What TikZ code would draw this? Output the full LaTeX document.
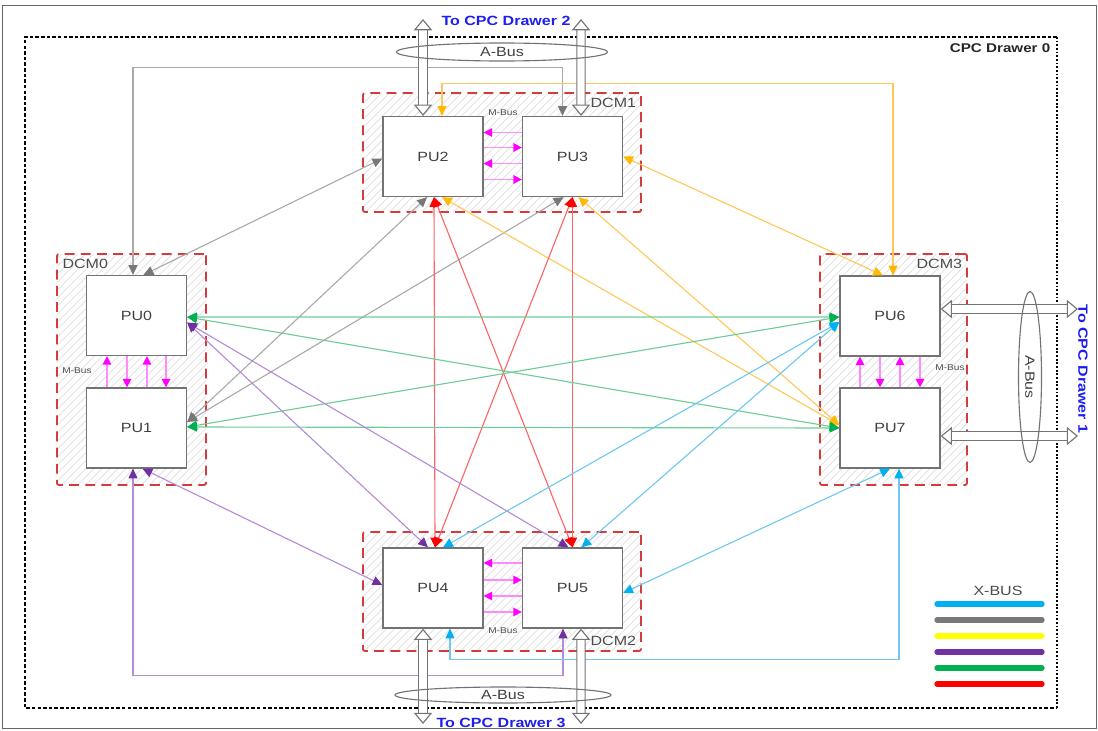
\documentclass[tikz,border=0pt]{standalone}
\usepackage{fontspec}
\setmainfont{Liberation Sans}[FakeStretch=1.2]
\usetikzlibrary{arrows.meta,calc,shapes.geometric,patterns.meta}

\definecolor{lgray}{RGB}{170,170,170}
\definecolor{tgray}{RGB}{120,120,120}
\definecolor{lorange}{RGB}{255,200,90}
\definecolor{torange}{RGB}{255,185,0}
\definecolor{lred}{RGB}{255,100,100}
\definecolor{tred}{RGB}{255,0,0}
\definecolor{lgreen}{RGB}{110,205,150}
\definecolor{tgreen}{RGB}{0,176,80}
\definecolor{lpurple}{RGB}{180,140,215}
\definecolor{tpurple}{RGB}{112,48,160}
\definecolor{lblue}{RGB}{110,200,240}
\definecolor{tblue}{RGB}{0,176,240}
\definecolor{lmag}{RGB}{255,140,255}
\definecolor{tmag}{RGB}{255,0,255}
\definecolor{dcmred}{RGB}{210,60,60}
\definecolor{legyellow}{RGB}{255,255,0}
\definecolor{cpcblue}{RGB}{30,30,240}

\tikzset{
  pu/.style={draw=black!55, line width=0.9pt, fill=white, minimum width=2.5cm,
    minimum height=2cm, font=\fontsize{9.5}{11}\selectfont, text=black!75},
  dcm/.style={draw=dcmred, line width=1.3pt, dash pattern=on 7pt off 4.5pt,
    rounded corners=1.5pt, pattern={Lines[angle=45,distance=4pt,line width=0.45pt]},
    pattern color=black!22},
  dcmlabel/.style={font=\fontsize{9.5}{11}\selectfont, text=black!70, inner sep=4pt},
  mlabel/.style={font=\fontsize{6}{7}\selectfont, text=black!70, inner sep=1pt},
  cpclabel/.style={font=\fontsize{9.5}{11}\selectfont\bfseries, text=cpcblue, inner sep=1pt},
  frame/.style={line width=1.1pt, dash pattern=on 2.5pt off 1.5pt},
  busring/.style={ellipse, draw=black!55, line width=0.8pt, inner sep=0pt,
    font=\fontsize{9.5}{11}\selectfont, text=black!75},
  busarrow/.style={draw=black!55, double=white, double distance=5pt, line width=0.8pt,
    {Triangle[length=8pt,width=13pt,fill=white]}-{Triangle[length=8pt,width=13pt,fill=white]}},
  mbus/.style={draw=lmag, line width=1.1pt, -{Triangle[length=6pt,width=6pt,color=tmag]}},
  link/.style 2 args={draw=#1, line width=0.8pt,
    {Triangle[length=7pt,width=6.5pt,color=#2]}-{Triangle[length=7pt,width=6.5pt,color=#2]}},
  graylink/.style={link={lgray}{tgray}},
  orangelink/.style={link={lorange}{torange}},
  redlink/.style={link={lred}{tred}},
  greenlink/.style={link={lgreen}{tgreen}},
  purplelink/.style={link={lpurple}{tpurple}},
  bluelink/.style={link={lblue}{tblue}},
  legend/.style={line width=3.8pt, line cap=round}
}

\begin{document}
\begin{tikzpicture}[x=0.025cm, y=-0.025cm]
  \useasboundingbox (0,0) rectangle (1098,730);
  \draw[black!60, line width=0.4pt] (2,5) rectangle (1096,728);

  % drawer frame
  \draw[frame] (1057,37) -- (25,37) -- (25,708) -- (1057,708);
  \draw[frame, dash pattern=on 1.3pt off 1.3pt] (1057,37) -- (1057,708);
  \node[anchor=north east, inner sep=1pt, font=\fontsize{9}{11}\selectfont\bfseries,
    text=black!85] (drw0) at (1052,42) {CPC Drawer 0};

  % dual chip modules
  \node[dcm, minimum width=3.725cm, minimum height=5.775cm] (dcm0) at (131.5,369.5) {};
  \node[dcm, minimum width=6.95cm, minimum height=2.975cm] (dcm1) at (502,152.5) {};
  \node[dcm, minimum width=6.95cm, minimum height=2.975cm] (dcm2) at (502,591.5) {};
  \node[dcm, minimum width=3.675cm, minimum height=5.775cm] (dcm3) at (893.5,369.5) {};
  \node[dcmlabel, anchor=north west] (dcm0l) at (dcm0.north west) {DCM0};
  \node[dcmlabel, anchor=north east] (dcm1l) at (dcm1.north east) {DCM1};
  \node[dcmlabel, anchor=south east] (dcm2l) at (dcm2.south east) {DCM2};
  \node[dcmlabel, anchor=north east] (dcm3l) at (dcm3.north east) {DCM3};

  % processor units
  \node[pu] (pu0) at (136.5,315.5) {PU0};
  \node[pu] (pu1) at (136.5,428) {PU1};
  \node[pu] (pu2) at (433,156.5) {PU2};
  \node[pu] (pu3) at (572.5,156.5) {PU3};
  \node[pu] (pu4) at (433,588) {PU4};
  \node[pu] (pu5) at (572.5,588) {PU5};
  \node[pu] (pu6) at (890,316) {PU6};
  \node[pu] (pu7) at (890,428) {PU7};

  % M-Bus inside each module
  \foreach \d in {-24,7}
    \draw[mbus] ($(pu3.west)+(0,\d)$) -- ($(pu2.east)+(0,\d)$);
  \foreach \d in {-9,23}
    \draw[mbus] ($(pu2.east)+(0,\d)$) -- ($(pu3.west)+(0,\d)$);
  \foreach \d in {-25,8}
    \draw[mbus] ($(pu5.west)+(0,\d)$) -- ($(pu4.east)+(0,\d)$);
  \foreach \d in {-8,24}
    \draw[mbus] ($(pu4.east)+(0,\d)$) -- ($(pu5.west)+(0,\d)$);
  \foreach \d in {-29.5,10.5}
    \draw[mbus] ($(pu1.north)+(\d,0)$) -- ($(pu0.south)+(\d,0)$);
  \foreach \d in {-9.5,29.5}
    \draw[mbus] ($(pu0.south)+(\d,0)$) -- ($(pu1.north)+(\d,0)$);
  \foreach \d in {-30,10}
    \draw[mbus] ($(pu7.north)+(\d,0)$) -- ($(pu6.south)+(\d,0)$);
  \foreach \d in {-10,30}
    \draw[mbus] ($(pu6.south)+(\d,0)$) -- ($(pu7.north)+(\d,0)$);
  \node[mlabel] (mb1) at (503,113) {M-Bus};
  \node[mlabel] (mb2) at (503,631) {M-Bus};
  \node[mlabel] (mb0) at (77,371) {M-Bus};
  \node[mlabel] (mb3) at (950,368) {M-Bus};

  % X-Bus, gray
  \draw[graylink] ($(pu0.north)+(-3.5,0)$) -- ++(0,-207.5) -| ($(pu3.north)+(-10,0)$);
  \draw[graylink] ($(pu0.north)+(7,0)$) -- ($(pu2.west)+(0,2)$);
  \draw[graylink] ($(pu1.east)+(0,-6)$) -- ($(pu2.south)+(-6,0)$);
  \draw[graylink] ($(pu1.east)+(0,-6)$) -- ($(pu3.south)+(-9,0)$);
  % orange
  \draw[orangelink] ($(pu2.north)+(9,0)$) -- ++(0,-32.5) -| ($(pu6.north)+(3,0)$);
  \draw[orangelink] (pu3.east) -- ($(pu6.north)+(-7,0)$);
  \draw[orangelink] ($(pu2.south)+(9,0)$) -- ($(pu7.west)+(0,-3)$);
  \draw[orangelink] ($(pu3.south)+(6,0)$) -- ($(pu7.west)+(0,-3)$);
  % red
  \draw[redlink] ($(pu2.south)+(1,0)$) -- ($(pu4.north)+(2,0)$);
  \draw[redlink] ($(pu2.south)+(1,0)$) -- (pu5.north);
  \draw[redlink] (pu3.south) -- ($(pu4.north)+(2,0)$);
  \draw[redlink] (pu3.south) -- (pu5.north);
  % green
  \draw[greenlink] ($(pu0.east)+(0,1.5)$) -- ($(pu6.west)+(0,1)$);
  \draw[greenlink] ($(pu0.east)+(0,1.5)$) -- (pu7.west);
  \draw[greenlink] ($(pu1.east)+(0,-1)$) -- ($(pu6.west)+(0,1)$);
  \draw[greenlink] ($(pu1.east)+(0,-1)$) -- (pu7.west);
  % purple
  \draw[purplelink] ($(pu0.east)+(0,7)$) -- ($(pu4.north)+(-5,0)$);
  \draw[purplelink] ($(pu0.east)+(0,7)$) -- ($(pu5.north)+(-4,0)$);
  \draw[purplelink] ($(pu1.south)+(6,0)$) -- ($(pu4.west)+(0,-3)$);
  \draw[purplelink] ($(pu1.south)+(-3.5,0)$) -- ++(0,207) -| ($(pu5.south)+(-9.5,0)$);
  % blue
  \draw[bluelink] ($(pu6.west)+(0,6)$) -- ($(pu4.north)+(10,0)$);
  \draw[bluelink] ($(pu6.west)+(0,6)$) -- ($(pu5.north)+(9,0)$);
  \draw[bluelink] (pu7.south) -- ($(pu5.east)+(0,5)$);
  \draw[bluelink] ($(pu7.south)+(9,0)$) -- ++(0,191) -| ($(pu4.south)+(17,0)$);

  % A-Bus to the other drawers
  \coordinate (up2) at (423,19);
  \coordinate (up3) at (581,19);
  \coordinate (dn4) at (423,724);
  \coordinate (dn5) at (581,724);
  \coordinate (rt6) at (1078,309);
  \coordinate (rt7) at (1078,436);
  \draw[busarrow] ($(pu2.north)+(-10,0)$) -- (up2);
  \draw[busarrow] ($(pu3.north)+(8.5,0)$) -- (up3);
  \draw[busarrow] ($(pu4.south)+(-10,0)$) -- (dn4);
  \draw[busarrow] ($(pu5.south)+(8.5,0)$) -- (dn5);
  \draw[busarrow] ($(pu6.east)+(0,-7)$) -- (rt6);
  \draw[busarrow] ($(pu7.east)+(0,8)$) -- (rt7);
  \node[busring, minimum width=5.275cm, minimum height=0.45cm] (abus1) at (502,52) {A-Bus};
  \node[busring, minimum width=5.4cm, minimum height=0.4cm] (abus2) at (503,695) {A-Bus};
  \node[busring, rotate=-90, minimum width=4.275cm, minimum height=0.575cm] (abus3) at (1030,377) {A-Bus};

  \node[cpclabel] (cpc2) at (506,21) {To CPC Drawer 2};
  \node[cpclabel] (cpc3) at (501,723) {To CPC Drawer 3};
  \node[cpclabel, rotate=-90] (cpc1) at (1083,369) {To CPC Drawer 1};

  % legend
  \node[font=\fontsize{9.5}{11}\selectfont, text=black!70] (xbus) at (998,591) {X-BUS};
  \foreach \c [count=\i] in {tblue,tgray,legyellow,tpurple,tgreen,tred}
    \draw[legend, \c] (937,588+16*\i) -- (1042,588+16*\i);
\end{tikzpicture}
\end{document}
